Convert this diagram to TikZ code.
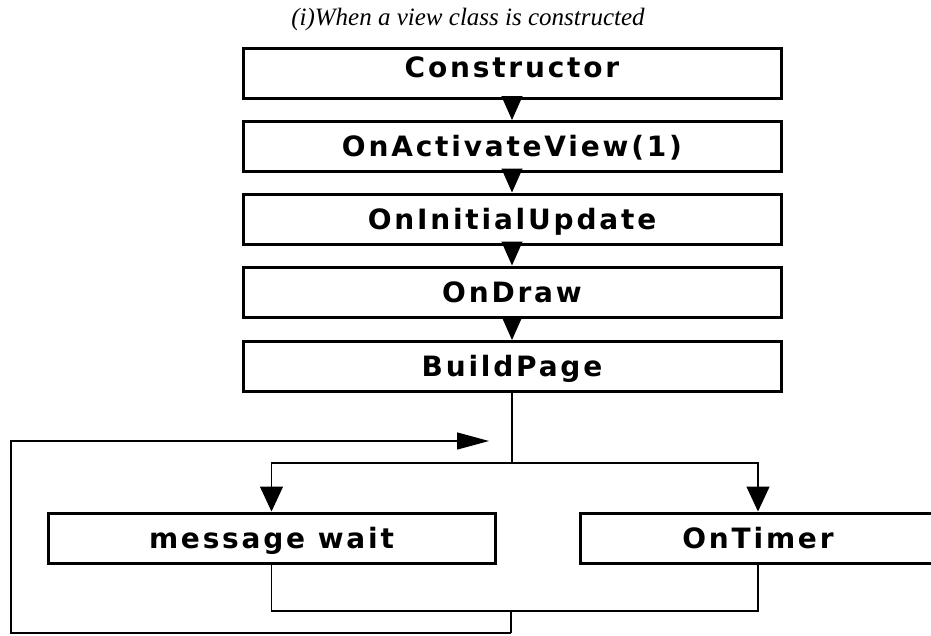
\documentclass[tikz,border=0pt]{standalone}
\usepackage{fontspec}
\setmainfont{Liberation Serif}
\newfontfamily\boxfont{DejaVu Sans}[LetterSpace=10]
\usetikzlibrary{arrows.meta}

\begin{document}
\begin{tikzpicture}[x=1pt,y=-1pt,
  stepbox/.style={draw, line width=3pt, minimum height=50pt, inner sep=0pt,
    font=\boxfont\bfseries\fontsize{28}{28}\selectfont,
    text height=20pt, text depth=0pt},
  mainbox/.style={stepbox, minimum width=538pt},
  link/.style={line width=1.3pt},
  chaintip/.style={-{Triangle[length=24pt,width=21pt]}},
  droptip/.style={-{Triangle[length=25pt,width=23pt]}},
  looptip/.style={-{Triangle[length=32pt,width=17pt]}}]
\useasboundingbox (0,0) rectangle (931,635);
\clip (0,0) rectangle (931,635);

% heading
\node (title) at (468,19)
  {\itshape\fontsize{25}{25}\selectfont (i)When a view class is constructed};

% start-up sequence
\node[mainbox] (ctor)  at (512,73)    {\raisebox{6pt}{Constructor}};
\node[mainbox] (act)   at (512,146.5) {OnActivateView(1)};
\node[mainbox] (init)  at (512,219)   {OnInitialUpdate};
\node[mainbox] (draw)  at (512,292)   {OnDraw};
\node[mainbox] (build) at (512,366.5) {BuildPage};

\draw[link, chaintip] (ctor.south) -- (act.north);
\draw[link, chaintip] (act.south)  -- (init.north);
\draw[link, chaintip] (init.south) -- (draw.north);
\draw[link, chaintip] (draw.south) -- (build.north);

% message loop
\node[stepbox, minimum width=447pt] (wait)  at (271.5,538) {message wait};
\node[stepbox, minimum width=356pt] (timer) at (758,538)   {OnTimer};

\coordinate (split) at (512,463);
\coordinate (join)  at (511,611);
\coordinate (lb)    at (511,633);
\coordinate (lc)    at (11,633);
\coordinate (lt)    at (11,441);
\coordinate (back)  at (489,441);

\draw[link] (build.south) -- (split);
\draw[link, droptip] (split) -| (wait.north);
\draw[link, droptip] (split) -| (timer.north);
\draw[link] (wait.south) |- (join) -| (timer.south);
\draw[line width=2.2pt] (join) -- (lb);
\draw[link, looptip] (lb) -- (lc) -- (lt) -- (back);
\end{tikzpicture}
\end{document}
